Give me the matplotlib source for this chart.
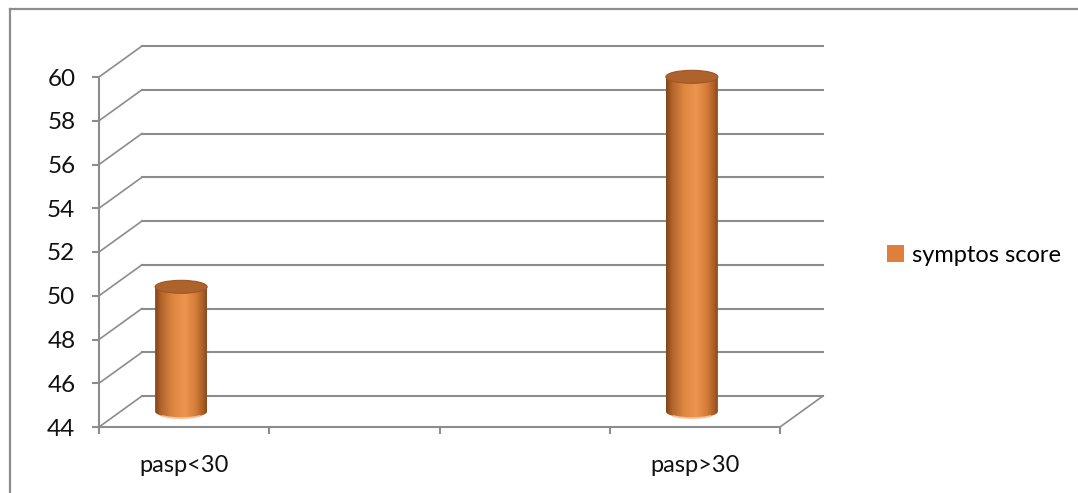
import numpy as np
import matplotlib
matplotlib.use("Agg")
import matplotlib.pyplot as plt
from matplotlib.colors import LinearSegmentedColormap
from matplotlib.patches import PathPatch, Ellipse, Patch
from matplotlib.path import Path
from matplotlib.lines import Line2D
import matplotlib.transforms as mtrans

plt.rcParams['font.family'] = ['Lato', 'DejaVu Sans']

# chart data
categories = ['pasp<30', '', '', 'pasp>30']
scores = [49.7, np.nan, np.nan, 59.3]
series_name = 'symptos score'
y_ticks = [44, 46, 48, 50, 52, 54, 56, 58, 60]

grid_col = '#8c8c8c'
bar_col = '#e07f3c'

fig = plt.figure(figsize=(10.78, 4.93), dpi=100)
ax = fig.add_axes([99 / 1078, 66 / 493, 681 / 1078, 350 / 493])
ax.set_xlim(0, len(categories))
ax.set_ylim(y_ticks[0], y_ticks[-1])

# outer chart frame (left and top only)
fig.add_artist(Line2D([10 / 1078, 10 / 1078], [0, 1 - 9 / 493], transform=fig.transFigure,
                      color=grid_col, lw=1.6))
fig.add_artist(Line2D([10 / 1078, 1], [1 - 9 / 493, 1 - 9 / 493], transform=fig.transFigure,
                      color=grid_col, lw=1.6))

# depth of the pseudo-3d box, in pixels -> data units
fig.canvas.draw()
p0 = ax.transData.transform((0, y_ticks[0]))
p1 = ax.transData.inverted().transform(p0 + np.array([43, 31]))
ddx, ddy = p1[0], p1[1] - y_ticks[0]
xmax = len(categories)

for yt in y_ticks:
    # back wall gridline
    ax.plot([ddx, xmax + ddx], [yt + ddy, yt + ddy], color=grid_col, lw=1.5,
            clip_on=False, zorder=1)
    # side wall edge
    ax.plot([0, ddx], [yt, yt + ddy], color=grid_col, lw=1.2, clip_on=False, zorder=1)
# floor right edge
ax.plot([xmax, xmax + ddx], [y_ticks[0], y_ticks[0] + ddy], color=grid_col, lw=1.2,
        clip_on=False, zorder=1)

# cylinders
cyl_trans = ax.transData + mtrans.ScaledTranslation(-3 / 100, 15.5 / 100, fig.dpi_scale_trans)
cmap = LinearSegmentedColormap.from_list('cyl', [
    (0.0, '#7e441a'), (0.12, '#b4652b'), (0.35, '#dd8741'), (0.58, '#ee954e'),
    (0.8, '#d27a37'), (0.93, '#a85d26'), (1.0, '#864a1d')])
grad = np.linspace(0, 1, 256).reshape(1, -1)

px_per_x = (ax.transData.transform((1, 0)) - ax.transData.transform((0, 0)))[0]
px_per_y = (ax.transData.transform((0, 1)) - ax.transData.transform((0, 0)))[1]
w = 52 / px_per_x
eh = 13 / px_per_y
base = y_ticks[0]

for i, v in enumerate(scores):
    if np.isnan(v):
        continue
    c = i + 0.5
    x0, x1 = c - w / 2, c + w / 2
    t = np.linspace(np.pi, 2 * np.pi, 40)
    verts = [(x0, v), (x0, base)]
    verts += list(zip(c + w / 2 * np.cos(t), base + eh / 2 * np.sin(t)))
    verts += [(x1, v), (x0, v)]
    codes = [Path.MOVETO] + [Path.LINETO] * (len(verts) - 2) + [Path.CLOSEPOLY]
    body = PathPatch(Path(verts, codes), transform=cyl_trans, facecolor='none',
                     edgecolor='none')
    im = ax.imshow(grad, extent=(x0, x1, base - eh, v), aspect='auto', cmap=cmap,
                   transform=cyl_trans, zorder=3, interpolation='bilinear')
    im.set_clip_path(body)
    # light rim at the bottom
    tr = np.linspace(1.25 * np.pi, 1.75 * np.pi, 30)
    ax.plot(c + w / 2 * np.cos(tr), base + eh / 2 * np.sin(tr), color='#f6be92', lw=1.3,
            transform=cyl_trans, zorder=4, clip_on=False)
    # top cap
    ax.add_patch(Ellipse((c, v), w, eh, facecolor='#ad632b', edgecolor='#9c5726', lw=0.8,
                         transform=cyl_trans, zorder=5, clip_on=False))

ax.set_xlim(0, xmax)
ax.set_ylim(y_ticks[0], y_ticks[-1])

# axes styling
for s in ['top', 'right']:
    ax.spines[s].set_visible(False)
for s in ['left', 'bottom']:
    ax.spines[s].set_color(grid_col)
    ax.spines[s].set_linewidth(1.5)
    ax.spines[s].set_zorder(2)

ax.set_yticks(y_ticks)
ax.set_yticklabels([str(y) for y in y_ticks])
ax.set_xticks(np.arange(xmax + 1))
ax.set_xticklabels([])
ax.set_xticks(np.arange(xmax) + 0.5, minor=True)
ax.set_xticklabels(categories, minor=True)
ax.tick_params(axis='y', direction='out', length=5, width=1.5, color=grid_col,
               labelsize=17.5, pad=12, labelcolor='#111111')
ax.tick_params(axis='x', which='major', direction='out', length=5, width=1.5, color=grid_col)
ax.tick_params(axis='x', which='minor', length=0, labelsize=17, pad=20,
               labelcolor='#111111')
ax.patch.set_visible(False)

ax.legend(handles=[Patch(facecolor=bar_col, edgecolor='none', label=series_name)],
          loc='center left', bbox_to_anchor=(887 / 1078, 1 - 255 / 493),
          bbox_transform=fig.transFigure, frameon=False, fontsize=17,
          handlelength=0.7, handleheight=0.7, handletextpad=0.35,
          borderpad=0, borderaxespad=0)

fig.savefig('out.png', dpi=100)
